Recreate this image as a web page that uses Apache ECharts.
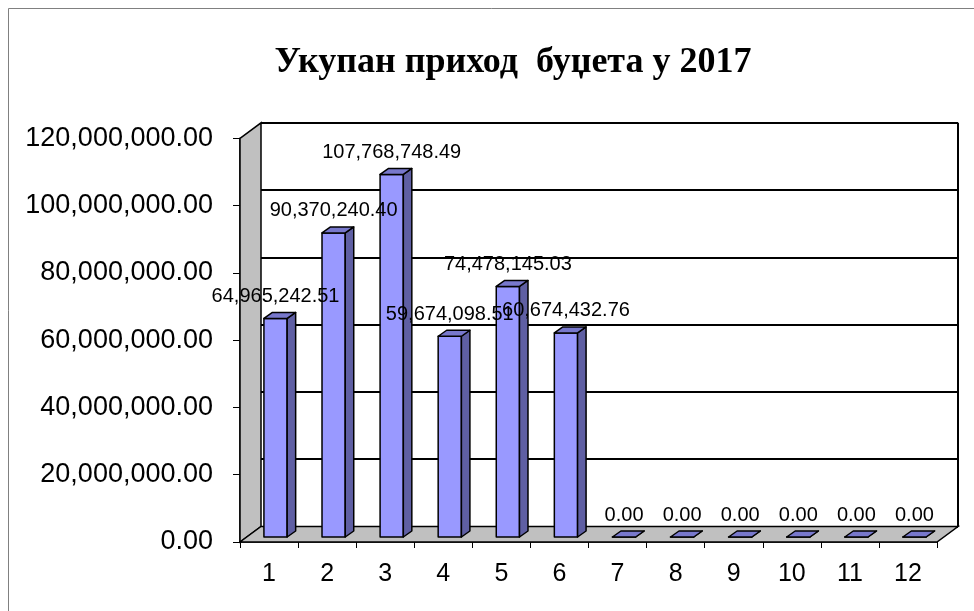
<!DOCTYPE html>
<html>
<head>
<meta charset="utf-8">
<script src="https://cdn.jsdelivr.net/npm/echarts@6/dist/echarts.min.js"></script>
<style>
html,body{margin:0;padding:0;background:#fff;}
#chart{width:974px;height:611px;}
</style>
</head>
<body>
<div id="chart"></div>
<script>
// ---- data ----
const categories = ['1','2','3','4','5','6','7','8','9','10','11','12'];
const values = [64965242.51, 90370240.40, 107768748.49, 59674098.51, 74478145.03, 60674432.76, 0, 0, 0, 0, 0, 0];
const yMin = 0, yMax = 120000000, yInterval = 20000000;
const titleText = 'Укупан приход  буџета у 2017';

// ---- style constants ----
const DX = 21, DY = -15.5;        // wall depth
const BOX = 6.5, BOY = -5;        // bar plane offset from front
const BDX = 8.5, BDY = -6;        // bar depth
const BAR_RATIO = 0.40;
const FRONT = '#9999FF', SIDE = '#5F5FA3', TOP = '#7878CC';
const FONT = '"Liberation Sans", Arial, sans-serif';

function fmt(v){
  return v.toLocaleString('en-US',{minimumFractionDigits:2, maximumFractionDigits:2});
}

const chart = echarts.init(document.getElementById('chart'), null, {renderer:'canvas'});
const G = {left:240, top:138.3, width:697, height:403.7};

const option = {
  backgroundColor:'#fff',
  animation:false,
  title:{
    text:titleText, left:508, textAlign:'center', top:40,
    textStyle:{fontFamily:'"Liberation Serif","Times New Roman",serif', fontWeight:'bold', fontSize:36, color:'#000'}
  },
  graphic:[{type:'rect', shape:{x:8.5,y:8.5,width:990,height:640}, style:{fill:'none', stroke:'#808080', lineWidth:1}, z:-10}],
  grid:[
    {left:G.left, top:G.top, width:G.width, height:G.height},
    {left:G.left+DX, top:G.top+DY, width:G.width, height:G.height}
  ],
  xAxis:[
    {type:'category', gridIndex:0, data:categories,
     axisLine:{show:true, lineStyle:{color:'#000', width:1.5}},
     axisTick:{show:true, length:6, lineStyle:{color:'#000', width:1}},
     axisLabel:{fontFamily:FONT, fontSize:25, color:'#000', margin:20},
     splitLine:{show:false}},
    {type:'category', gridIndex:1, data:categories, show:false}
  ],
  yAxis:[
    {type:'value', gridIndex:0, min:yMin, max:yMax, interval:yInterval,
     axisLine:{show:true, lineStyle:{color:'#000', width:1.5}},
     axisTick:{show:true, length:7, lineStyle:{color:'#000', width:1}},
     axisLabel:{fontFamily:FONT, fontSize:27, color:'#000', margin:27, formatter:v=>fmt(v)},
     splitLine:{show:false}},
    {type:'value', gridIndex:1, min:yMin, max:yMax, interval:yInterval,
     axisLine:{show:false}, axisTick:{show:false}, axisLabel:{show:false},
     splitLine:{show:true, lineStyle:{color:'#000', width:2}}}
  ],
  series:[
    { // walls & floor
      type:'custom', xAxisIndex:0, yAxisIndex:0, z:1, silent:true,
      data:[[0,0]],
      renderItem:function(params, api){
        const c = params.coordSys;
        const x0 = c.x, y0 = c.y, w = c.width, h = c.height;
        const yb = y0 + h;
        const st = {stroke:'#000', lineWidth:1.5};
        return {type:'group', children:[
          {type:'polygon', shape:{points:[[x0,yb],[x0,y0],[x0+DX,y0+DY],[x0+DX,yb+DY]]},
           style:Object.assign({fill:'#C0C0C0'}, st)},
          {type:'polygon', shape:{points:[[x0,yb],[x0+w,yb],[x0+w+DX,yb+DY],[x0+DX,yb+DY]]},
           style:Object.assign({fill:'#C0C0C0'}, st)},
          {type:'line', shape:{x1:x0+w+DX, y1:y0+DY, x2:x0+w+DX, y2:yb+DY},
           style:{stroke:'#000', lineWidth:2}}
        ]};
      }
    },
    { // bars
      type:'custom', xAxisIndex:0, yAxisIndex:0, z:3, silent:true,
      data:values.map((v,i)=>[i,v]),
      encode:{x:0, y:1},
      renderItem:function(params, api){
        const i = api.value(0), v = api.value(1);
        const top = api.coord([i, v]);
        const base = api.coord([i, 0]);
        const band = api.size([1,0])[0];
        const w = band*BAR_RATIO;
        const x1 = top[0] - w/2 + BOX, x2 = x1 + w;
        const yt = top[1] + BOY, yb = base[1] + BOY;
        const st = {stroke:'#000', lineWidth:1.5, lineJoin:'round'};
        return {type:'group', children:[
          {type:'polygon', shape:{points:[[x1,yt],[x2,yt],[x2,yb],[x1,yb]]}, style:Object.assign({fill:FRONT}, st)},
          {type:'polygon', shape:{points:[[x2,yt],[x2+BDX,yt+BDY],[x2+BDX,yb+BDY],[x2,yb]]}, style:Object.assign({fill:SIDE}, st)},
          {type:'polygon', shape:{points:[[x1,yt],[x1+BDX,yt+BDY],[x2+BDX,yt+BDY],[x2,yt]]}, style:Object.assign({fill:TOP}, st)}
        ]};
      }
    },
    { // data labels
      type:'custom', xAxisIndex:0, yAxisIndex:0, z:5, silent:true,
      data:values.map((v,i)=>[i,v]),
      encode:{x:0, y:1},
      renderItem:function(params, api){
        const i = api.value(0), v = api.value(1);
        const top = api.coord([i, v]);
        return {type:'text', x:top[0]+BOX, y:top[1]+BOY-22,
          style:{text:fmt(v), fill:'#000', font:'20px ' + FONT, textAlign:'center', textVerticalAlign:'middle'}};
      }
    }
  ]
};
chart.setOption(option);
</script>
</body>
</html>
